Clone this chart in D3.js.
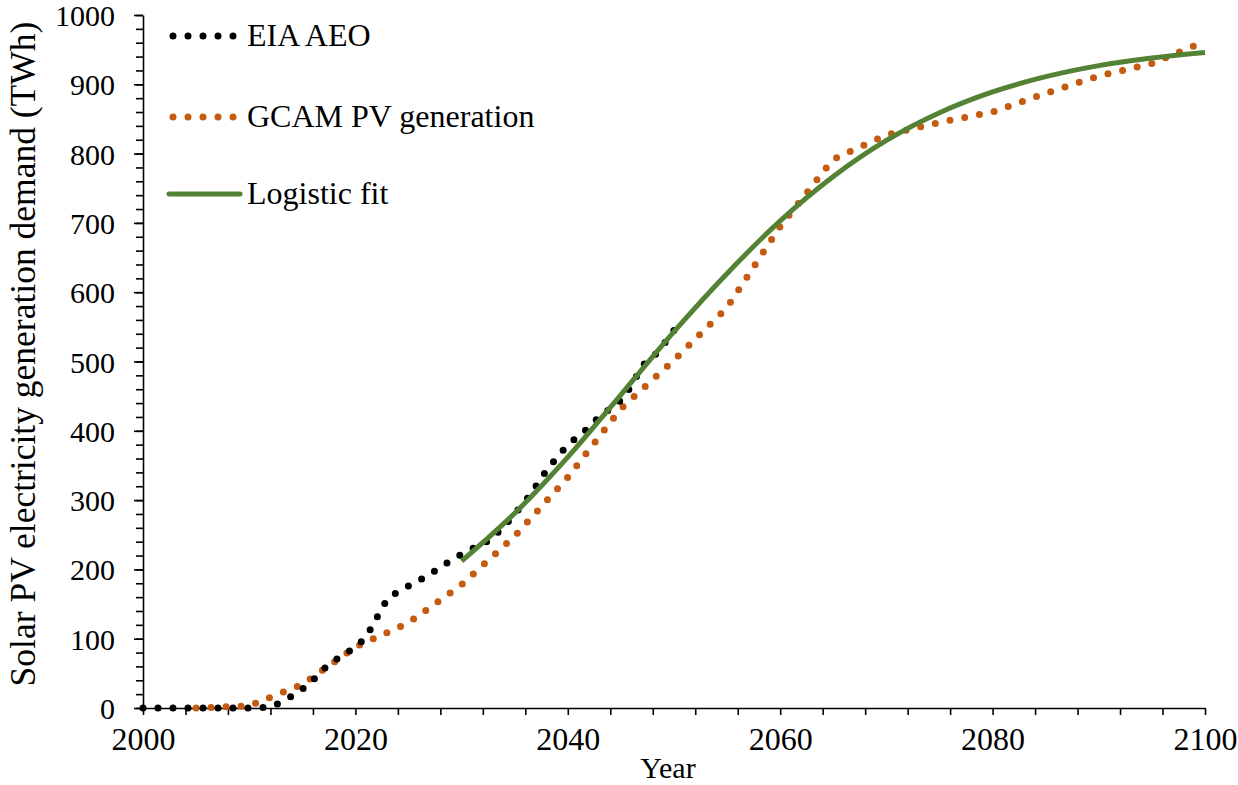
<!DOCTYPE html>
<html lang="en">
    <head>
        <meta charset="UTF-8">
        <script src="https://cdn.jsdelivr.net/npm/d3@7"></script>
        <title>Solar PV demand</title>
        <style>
            body { margin: 0; background: #fff; }
            svg text { font-family: "Liberation Serif", serif; fill: #000; }
        </style>
    </head>
    <body>
        <svg id="canvas" width="1238" height="785"></svg>

        <script>
            // EIA AEO, yearly
            var eiaYears = d3.range(2000, 2051);
            var eiaValues = [0, 0, 0, 0, 0, 0, 0, 0, 0, 0,
                             0, 0, 2, 8, 17, 27, 40, 56, 68, 78,
                             88, 102, 130, 157, 168, 176, 184, 193, 203, 213,
                             222, 230, 236, 247, 262, 280, 298, 320, 343, 362,
                             380, 392, 405, 421, 432, 444, 465, 494, 506, 524,
                             545];
            // GCAM PV generation, 5 year steps
            var gcamYears = [2005, 2010, 2015, 2020, 2025, 2030, 2035, 2040, 2045, 2050,
                             2055, 2060, 2065, 2070, 2075, 2080, 2085, 2090, 2095, 2100];
            var gcamValues = [0, 3, 34, 88, 123, 178, 248, 333, 432, 502,
                              578, 695, 792, 827, 845, 860, 887, 912, 930, 962];
            // logistic fit
            var fitYears = [2030, 2035, 2040, 2045, 2050, 2055, 2060, 2065, 2070, 2075,
                            2080, 2085, 2090, 2095, 2100];
            var fitValues = [212, 281, 362, 452, 543, 627, 703, 767, 819, 859,
                             889, 911, 927, 938, 946];

            var xTicks = d3.range(2000, 2101, 4);
            var xLabels = [2000, 2020, 2040, 2060, 2080, 2100];
            var yMajor = d3.range(0, 1001, 100);
            var yMinor = d3.range(0, 1001, 20);

            var svg = d3.select("svg#canvas");
            var x = d3.scaleLinear().domain([2000, 2100]).range([143, 1205]);
            var y = d3.scaleLinear().domain([0, 1000]).range([708, 15]);

            // y axis: minor then major ticks
            svg.append("g")
                .attr("transform", "translate(143,0)")
                .call(d3.axisLeft(y).tickValues(yMinor).tickSize(7).tickFormat(""))
                .call(function(g) { g.select(".domain").remove(); });
            var yAxis = svg.append("g")
                .attr("transform", "translate(143,0)")
                .call(d3.axisLeft(y).tickValues(yMajor).tickSize(9).tickPadding(19).tickSizeOuter(0)
                    .tickFormat(d3.format("d")));
            yAxis.selectAll("text").attr("font-size", 30).attr("dy", "0.35em");

            // x axis
            var xAxis = svg.append("g")
                .attr("transform", "translate(0,708)")
                .call(d3.axisBottom(x).tickValues(xTicks).tickSize(7).tickPadding(12).tickSizeOuter(0)
                    .tickFormat(function(d) { return xLabels.indexOf(d) >= 0 ? d : ""; }));
            xAxis.selectAll("text").attr("font-size", 32);

            svg.selectAll(".domain, .tick line").attr("stroke", "#000").attr("stroke-width", 1.6);

            var line = d3.line()
                .x(function(d) { return x(d[0]) })
                .y(function(d) { return y(d[1]) });

            var gcam = d3.zip(gcamYears, gcamValues),
                eia = d3.zip(eiaYears, eiaValues),
                fit = d3.zip(fitYears, fitValues);

            svg.append("path").attr("d", line(gcam)).call(function(s) {
                s.attr("fill", "none");
                s.attr("stroke", "#C55A11");
                s.attr("stroke-width", 7);
                s.attr("stroke-linecap", "round");
                s.attr("stroke-dasharray", "0 15");
            });
            svg.append("path").attr("d", line(eia)).call(function(s) {
                s.attr("fill", "none");
                s.attr("stroke", "#000");
                s.attr("stroke-width", 7);
                s.attr("stroke-linecap", "round");
                s.attr("stroke-dasharray", "0 15");
            });
            svg.append("path").attr("d", line.curve(d3.curveMonotoneX)(fit)).call(function(s) {
                s.attr("fill", "none");
                s.attr("stroke", "#548235");
                s.attr("stroke-width", 5);
            });

            // legend
            var legend = [
                {name: "EIA AEO", color: "#000", dotted: true, cy: 36},
                {name: "GCAM PV generation", color: "#C55A11", dotted: true, cy: 117},
                {name: "Logistic fit", color: "#548235", dotted: false, cy: 194}
            ];
            legend.forEach(function(l) {
                var p = svg.append("line")
                    .attr("x1", l.dotted ? 173 : 169).attr("x2", l.dotted ? 234 : 240)
                    .attr("y1", l.cy).attr("y2", l.cy)
                    .attr("stroke", l.color)
                    .attr("stroke-width", l.dotted ? 7 : 5)
                    .attr("stroke-linecap", "round");
                if (l.dotted) p.attr("stroke-dasharray", "0 15");
                svg.append("text")
                    .attr("x", 247).attr("y", l.cy + 10)
                    .attr("font-size", 32)
                    .text(l.name);
            });

            // axis titles
            svg.append("text")
                .attr("x", 668).attr("y", 778)
                .attr("text-anchor", "middle")
                .attr("font-size", 30)
                .text("Year");
            svg.append("text")
                .attr("transform", "translate(35,354) rotate(-90)")
                .attr("text-anchor", "middle")
                .attr("font-size", 35.5)
                .text("Solar PV electricity generation demand (TWh)");

            svg.selectAll("text").style("font-family", "'Liberation Serif', serif");
        </script>
    </body>
</html>
